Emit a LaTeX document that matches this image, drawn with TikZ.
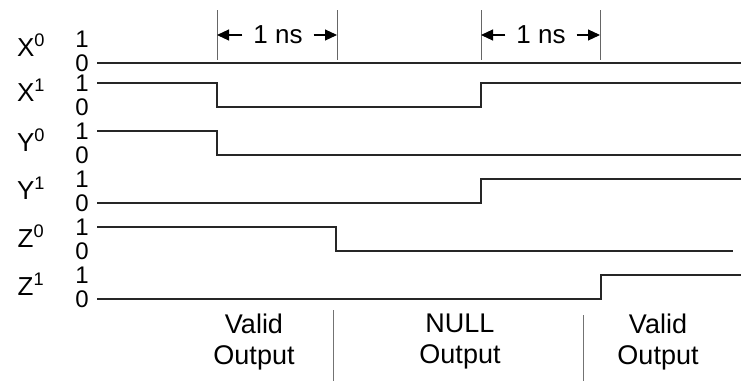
\documentclass[tikz,border=0pt]{standalone}
\usepackage{fontspec}
\setmainfont{Liberation Sans}
\usetikzlibrary{arrows.meta}
\begin{document}
\begin{tikzpicture}[x=1pt,y=-1pt,
  wave/.style={line width=1.4pt, draw=black!85, line join=miter},
  namelab/.style={anchor=base, inner sep=0pt, font=\fontsize{26}{28}\selectfont},
  lvl/.style={anchor=base, inner sep=0pt, font=\fontsize{24}{26}\selectfont},
  tickline/.style={line width=1pt, draw=black!60},
  dimarrow/.style={line width=1.1pt, draw=black, -{Triangle[length=12pt,width=11pt]}},
  dimlab/.style={inner sep=0pt, font=\fontsize{26}{28}\selectfont},
  seprule/.style={line width=1pt, draw=black!55},
  phase/.style={anchor=north, inner sep=0pt, align=center, font=\fontsize{27}{31}\selectfont}
]
\useasboundingbox (0,0) rectangle (741,381);

% signal names
\node[namelab] (nX0) at (31,56) {X\textsuperscript{0}};
\node[namelab] (nX1) at (31,101) {X\textsuperscript{1}};
\node[namelab] (nY0) at (31,151) {Y\textsuperscript{0}};
\node[namelab] (nY1) at (31,199) {Y\textsuperscript{1}};
\node[namelab] (nZ0) at (31,247) {Z\textsuperscript{0}};
\node[namelab] (nZ1) at (31,295) {Z\textsuperscript{1}};

% level digits
\foreach \n/\h/\l in {x0/39/63, x1/83/107, y0/131/155, y1/179/203, z0/227/251, z1/275/299}{
  \node[lvl] (\n one) at (82,\h+8.7) {1};
  \node[lvl] (\n zero) at (82,\l+8.0) {0};
}

% waveforms
\draw[wave] (97,63) -- (741,63);
\draw[wave] (97,83) -- (217,83) -- (217,107) -- (481,107) -- (481,83) -- (741,83);
\draw[wave] (97,131) -- (217,131) -- (217,155) -- (741,155);
\draw[wave] (97,203) -- (481,203) -- (481,179) -- (741,179);
\draw[wave] (97,227) -- (336,227) -- (336,251) -- (733,251);
\draw[wave] (97,299) -- (601,299) -- (601,275) -- (741,275);

% dimension markers
\coordinate (a1) at (217,35); \coordinate (b1) at (337,35);
\coordinate (a2) at (481,35); \coordinate (b2) at (600,35);
\draw[tickline] (217,10) -- (217,60);
\draw[tickline] (337,10) -- (337,60);
\draw[tickline] (481,10) -- (481,60);
\draw[tickline] (600,10) -- (600,60);
\node[dimlab, minimum width=71pt] (t1) at (278,35) {1 ns};
\node[dimlab, minimum width=71pt] (t2) at (541,35) {1 ns};
\draw[dimarrow] (t1.west) -- (a1);
\draw[dimarrow] (t1.east) -- (b1);
\draw[dimarrow] (t2.west) -- (a2);
\draw[dimarrow] (t2.east) -- (b2);

% separators
\draw[seprule] (333,310) -- (333,381);
\draw[seprule] (583,315) -- (583,381);

% phase labels
\node[phase] (p1) at (254,314) {Valid\\Output};
\node[phase] (p2) at (460,314) {NULL\\Output};
\node[phase] (p3) at (658,314) {Valid\\Output};
\end{tikzpicture}
\end{document}
